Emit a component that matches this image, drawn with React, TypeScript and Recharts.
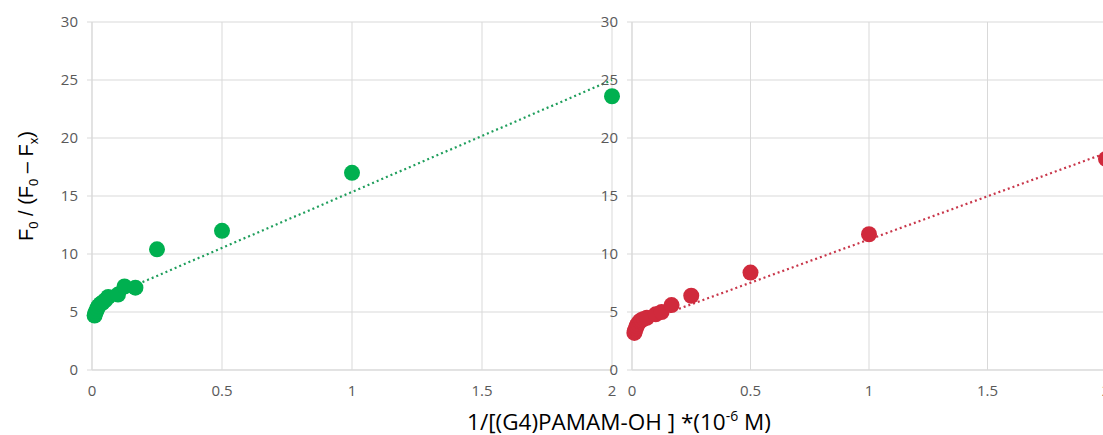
import { ScatterChart, Scatter, XAxis, YAxis, CartesianGrid } from 'recharts';

// 1/[PAMAM] (x) and F0/(F0-Fx) (y) for each series
const greenX = [0.01, 0.0125, 0.0167, 0.02, 0.025, 0.033, 0.04, 0.05, 0.0625, 0.1, 0.125, 0.167, 0.25, 0.5, 1, 2];
const greenY = [4.7, 4.9, 5.1, 5.3, 5.5, 5.7, 5.8, 6.0, 6.3, 6.5, 7.2, 7.1, 10.4, 12.0, 17.0, 23.6];
const redX = [0.01, 0.0125, 0.0167, 0.02, 0.025, 0.033, 0.04, 0.05, 0.0625, 0.1, 0.125, 0.167, 0.25, 0.5, 1, 2];
const redY = [3.2, 3.4, 3.6, 3.8, 4.0, 4.2, 4.3, 4.4, 4.5, 4.8, 5.0, 5.6, 6.4, 8.4, 11.7, 18.2];

// linear trendline end points
const greenTrendX = [0, 2];
const greenTrendY = [5.7, 25.0];
const redTrendX = [0, 2];
const redTrendY = [3.8, 18.7];

const xTicks = [0, 0.5, 1, 1.5, 2];
const yTicks = [0, 5, 10, 15, 20, 25, 30];

const toPoints = (xs: number[], ys: number[]) => xs.map((x, i) => ({ x, y: ys[i] }));

const FONT = '"Open Sans", Lato, sans-serif';
const GRID = '#d9d9d9';
const TICK = { fill: '#595959', fontSize: 15, fontFamily: FONT };

const noDot = () => <g />;

function Panel({ points, trend, color, lineColor, width }: any) {
  return (
    <ScatterChart width={width} height={435} margin={{ top: 22, right: 28, bottom: 35, left: 0 }}>
      <CartesianGrid stroke={GRID} strokeWidth={1} />
      <XAxis
        type="number"
        dataKey="x"
        domain={[0, 2]}
        ticks={xTicks}
        height={30}
        stroke={GRID}
        tickLine={false}
        tickMargin={9}
        tick={TICK}
        interval={0}
      />
      <YAxis
        type="number"
        dataKey="y"
        domain={[0, 30]}
        ticks={yTicks}
        width={92}
        stroke={GRID}
        tickSize={5}
        tickMargin={9}
        tick={TICK}
        interval={0}
      />
      <Scatter
        data={trend}
        line={{ stroke: lineColor, strokeWidth: 2.2, strokeDasharray: '2 3' }}
        shape={noDot}
        isAnimationActive={false}
      />
      <Scatter data={points} fill={color} isAnimationActive={false}
        shape={(p: any) => <circle cx={p.cx} cy={p.cy} r={8} fill={color} />} />
    </ScatterChart>
  );
}

export default function App() {
  return (
    <div style={{ position: 'absolute', left: 0, top: 0, width: 1103, height: 435, overflow: 'hidden', background: '#fff', fontFamily: FONT }}>
      <div style={{ position: 'absolute', left: 0, top: 0 }}>
        <Panel
          width={640}
          points={toPoints(greenX, greenY)}
          trend={toPoints(greenTrendX, greenTrendY)}
          color="#00b050"
          lineColor="#1f9e5c"
        />
      </div>
      <div style={{ position: 'absolute', left: 540, top: 0 }}>
        <Panel
          width={594}
          points={toPoints(redX, redY)}
          trend={toPoints(redTrendX, redTrendY)}
          color="#d02a3c"
          lineColor="#c8364a"
        />
      </div>
      <div
        style={{
          position: 'absolute',
          left: 28,
          top: 186,
          transform: 'translate(-50%, -50%) rotate(-90deg)',
          whiteSpace: 'nowrap',
          fontFamily: '"Liberation Sans", Arial, sans-serif',
          fontSize: 20,
          color: '#000',
        }}
      >
        F<sub style={{ fontSize: 13 }}>0</sub> / (F<sub style={{ fontSize: 13 }}>0</sub> – F<sub style={{ fontSize: 13 }}>x</sub>)
      </div>
      <div
        style={{
          position: 'absolute',
          left: 619,
          top: 421,
          transform: 'translate(-50%, -50%)',
          whiteSpace: 'nowrap',
          fontFamily: FONT,
          fontSize: 22.5,
          color: '#000',
        }}
      >
        1/[(G4)PAMAM-OH ] *(10<sup style={{ fontSize: 14 }}>-6</sup> M)
      </div>
    </div>
  );
}
